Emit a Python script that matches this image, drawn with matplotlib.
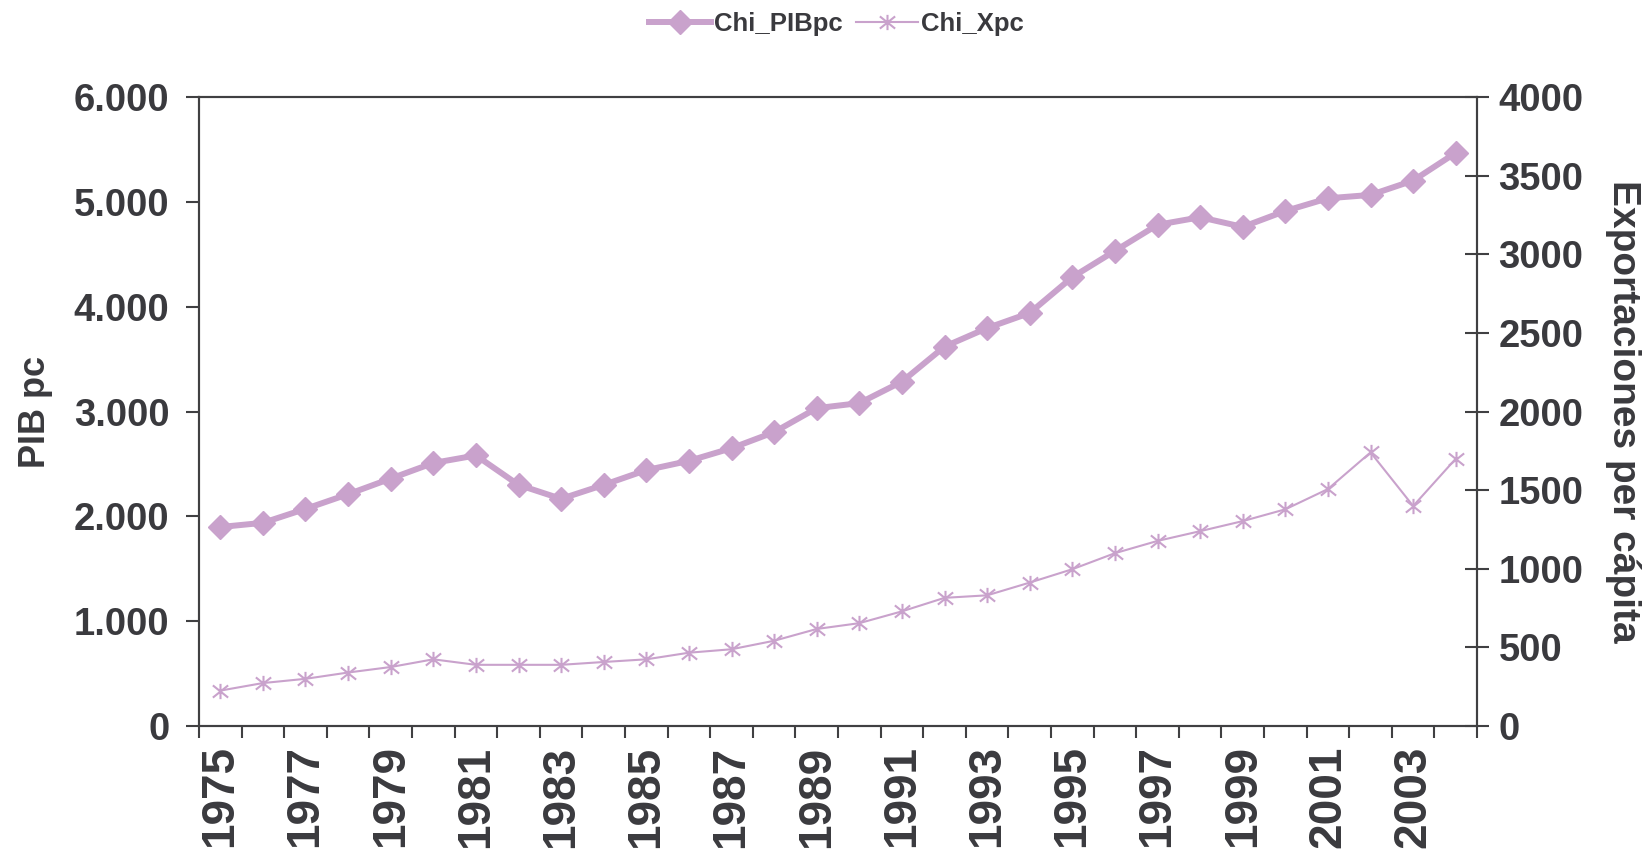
import matplotlib.pyplot as plt
from matplotlib.path import Path
from matplotlib.ticker import FuncFormatter, FixedLocator

# Chile: PIB per capita and exports per capita, 1975-2004
years = list(range(1975, 2005))
chi_pibpc = [1898, 1938, 2071, 2211, 2360, 2509, 2581, 2300, 2167, 2300,
             2441, 2529, 2650, 2803, 3032, 3080, 3285, 3619, 3796, 3940,
             4282, 4532, 4781, 4853, 4761, 4913, 5034, 5066, 5203, 5468]
chi_xpc = [225, 273, 300, 340, 375, 424, 389, 389, 389, 407,
           424, 466, 488, 542, 617, 654, 729, 815, 831, 912,
           997, 1099, 1177, 1239, 1303, 1378, 1507, 1740, 1399, 1700]

left_ticks = [0, 1000, 2000, 3000, 4000, 5000, 6000]
right_ticks = [0, 500, 1000, 1500, 2000, 2500, 3000, 3500, 4000]

LILAC = "#C9A2CC"
TXT = "#3A3A3E"
SPINE = "#404042"
FONT = ["Liberation Sans", "DejaVu Sans"]

plt.rcParams["font.family"] = FONT
plt.rcParams["font.weight"] = "bold"

# excel style star: vertical bar plus an X
star = Path([(0, -1), (0, 1), (-1, -0.8), (1, 0.8), (-1, 0.8), (1, -0.8)],
            [Path.MOVETO, Path.LINETO, Path.MOVETO, Path.LINETO, Path.MOVETO, Path.LINETO])

fig = plt.figure(figsize=(16.5, 8.51), dpi=100)
ax = fig.add_axes([0.1206, 0.1469, 0.7746, 0.7391])
ax2 = ax.twinx()

x = list(range(len(years)))
l1, = ax.plot(x, chi_pibpc, color=LILAC, lw=4.3, marker="D", ms=12, label="Chi_PIBpc", zorder=3)
l2, = ax2.plot(x, chi_xpc, color=LILAC, lw=1.5, marker=star, ms=11, mew=1.5, label="Chi_Xpc")

ax.set_xlim(-0.5, len(years) - 0.5)
ax.set_ylim(0, 6000)
ax2.set_ylim(0, 4000)

# category axis: ticks on boundaries, labels every other year
ax.xaxis.set_major_locator(FixedLocator([i - 0.5 for i in range(len(years) + 1)]))
ax.set_xticklabels([])
ax.xaxis.set_minor_locator(FixedLocator(x[::2]))
ax.set_xticklabels([str(y) for y in years[::2]], minor=True, rotation=90, fontsize=33,
                   fontweight="bold", color=TXT)
ax.tick_params(axis="x", which="major", direction="out", length=8.6, width=1.5, color=SPINE)
ax.tick_params(axis="x", which="minor", length=0, pad=14)

ax.set_yticks(left_ticks)
ax.yaxis.set_major_formatter(FuncFormatter(lambda v, p: f"{int(v):,}".replace(",", ".")))
ax.tick_params(axis="y", direction="out", length=9.4, width=1.5, color=SPINE, pad=12,
               labelsize=27.5, labelcolor=TXT)
for lab in ax.get_yticklabels():
    lab.set_fontweight("bold")

ax2.set_yticks(right_ticks)
ax2.tick_params(axis="y", direction="inout", length=17, width=1.5, color=SPINE, pad=7,
                labelsize=27.5, labelcolor=TXT)
for lab in ax2.get_yticklabels():
    lab.set_fontweight("bold")

for a in (ax, ax2):
    for s in a.spines.values():
        s.set_color(SPINE)
        s.set_linewidth(1.5)

ax.set_ylabel("PIB pc", fontsize=26, fontweight="bold", color=TXT)
ax.yaxis.set_label_coords(-0.114, 0.5)
ax2.set_ylabel("Exportaciones per cápita", fontsize=28, fontweight="bold", color=TXT, rotation=270,
               va="center")
ax2.yaxis.set_label_coords(1.114, 0.5)

leg = fig.legend(handles=[l1, l2], loc="center", bbox_to_anchor=(0.507, 0.972), ncol=2,
                 frameon=False, fontsize=18.5, handlelength=2.4, handletextpad=0.15,
                 columnspacing=0.5, borderpad=0)
for t in leg.get_texts():
    t.set_color(TXT)
    t.set_fontweight("bold")

fig.savefig("out.png", dpi=100)
